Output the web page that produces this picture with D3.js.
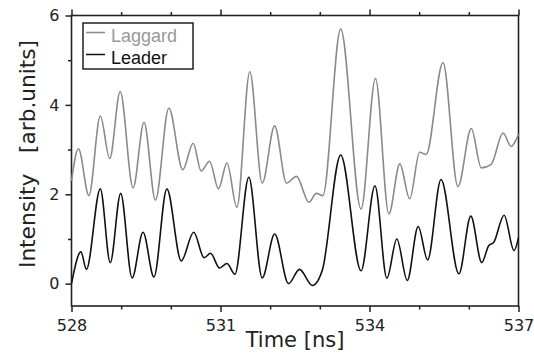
<!DOCTYPE html>
<html>
<head>
<meta charset="utf-8">
<script src="https://cdn.jsdelivr.net/npm/d3@7"></script>
<style>
  html, body { margin: 0; padding: 0; background: #fff; }
  svg { display: block; }
</style>
</head>
<body>
<svg id="chart" width="534" height="354"></svg>
<script>
// Leader pulse train: time [ns] and intensity [arb.units]
const leaderTime = [528.00, 528.19, 528.30, 528.58, 528.78, 528.99, 529.22, 529.44, 529.66, 529.92,
  530.21, 530.46, 530.67, 530.80, 530.98, 531.13, 531.29, 531.57, 531.84, 532.09,
  532.37, 532.59, 532.85, 533.05, 533.42, 533.83, 534.11, 534.35, 534.55, 534.76,
  534.98, 535.17, 535.44, 535.80, 536.04, 536.26, 536.40, 536.50, 536.71, 536.91, 537.00];
const leaderIntensity = [0.00, 0.71, 0.32, 2.12, 0.47, 2.02, 0.13, 1.15, 0.15, 2.12,
  0.51, 1.15, 0.58, 0.68, 0.35, 0.45, 0.21, 2.38, 0.13, 1.11,
  0.00, 0.32, -0.04, 0.30, 2.88, 0.29, 2.19, 0.12, 1.00, 0.07,
  1.28, 0.53, 2.33, 0.22, 1.51, 0.47, 0.85, 0.92, 1.53, 0.74, 1.03];

// Laggard pulse train
const laggardTime = [528.00, 528.14, 528.35, 528.58, 528.77, 528.98, 529.24, 529.46, 529.69, 529.96,
  530.24, 530.45, 530.61, 530.78, 530.96, 531.13, 531.33, 531.59, 531.84, 532.09,
  532.33, 532.53, 532.78, 532.93, 533.06, 533.42, 533.83, 534.12, 534.39, 534.61,
  534.81, 535.01, 535.14, 535.48, 535.78, 536.05, 536.25, 536.45, 536.69, 536.85, 537.00];
const laggardIntensity = [2.30, 3.02, 1.97, 3.75, 2.80, 4.30, 2.14, 3.61, 1.87, 3.93,
  2.55, 3.14, 2.52, 2.74, 2.12, 2.70, 1.71, 4.74, 2.25, 3.53,
  2.25, 2.40, 1.82, 2.02, 1.97, 5.70, 1.67, 4.59, 1.56, 2.68,
  1.90, 2.94, 2.89, 4.95, 2.17, 3.47, 2.59, 2.67, 3.37, 3.07, 3.34];

const xMajorTicks = [528, 531, 534, 537];
const xMinorTicks = [529, 530, 532, 533, 535, 536];
const yMajorTicks = [0, 2, 4, 6];
const yMinorTicks = [1, 3, 5];
const seriesNames = ["Laggard", "Leader"];
const seriesColors = ["#8a8a8a", "#111111"];

const svg = d3.select("#chart");
const plotLeft = 71.5, plotRight = 518.5, plotTop = 15.5, plotBottom = 306;

const x = d3.scaleLinear().domain([528, 537]).range([plotLeft, plotRight]);
const y = d3.scaleLinear().domain([-0.5, 6]).range([plotBottom, plotTop]);

const tickFont = "'DejaVu Sans', sans-serif";
const axisColor = "#222";

function styleAxis(g) {
  g.select(".domain").remove();
  g.selectAll(".tick line").attr("stroke", axisColor).attr("stroke-width", 1.5);
  g.selectAll(".tick text").attr("fill", "#222").style("font-family", tickFont).style("font-size", "16px");
}

// Bottom axis: labelled majors, short minors
svg.append("g").attr("transform", `translate(0,${plotBottom})`)
  .call(d3.axisBottom(x).tickValues(xMajorTicks).tickSize(6).tickPadding(7.5).tickFormat(d3.format("d")))
  .call(styleAxis);
svg.append("g").attr("transform", `translate(0,${plotBottom})`)
  .call(d3.axisBottom(x).tickValues(xMinorTicks).tickSize(3.5).tickFormat(""))
  .call(styleAxis);

// Top axis: ticks only
svg.append("g").attr("transform", `translate(0,${plotTop})`)
  .call(d3.axisTop(x).tickValues(xMajorTicks).tickSize(6).tickFormat(""))
  .call(styleAxis);
svg.append("g").attr("transform", `translate(0,${plotTop})`)
  .call(d3.axisTop(x).tickValues(xMinorTicks).tickSize(3.5).tickFormat(""))
  .call(styleAxis);

// Left axis
svg.append("g").attr("transform", `translate(${plotLeft},0)`)
  .call(d3.axisLeft(y).tickValues(yMajorTicks).tickSize(6).tickPadding(6).tickFormat(d3.format("d")))
  .call(styleAxis);
svg.append("g").attr("transform", `translate(${plotLeft},0)`)
  .call(d3.axisLeft(y).tickValues(yMinorTicks).tickSize(3.5).tickFormat(""))
  .call(styleAxis);

// Plot frame
svg.append("rect")
  .attr("x", plotLeft).attr("y", plotTop)
  .attr("width", plotRight - plotLeft).attr("height", plotBottom - plotTop)
  .attr("fill", "none").attr("stroke", axisColor).attr("stroke-width", 1.6);

// Traces
const line = d3.line()
  .x(d => x(d[0]))
  .y(d => y(d[1]))
  .curve(d3.curveMonotoneX);

const laggardPoints = d3.zip(laggardTime, laggardIntensity);
const leaderPoints = d3.zip(leaderTime, leaderIntensity);

svg.append("path").datum(laggardPoints)
  .attr("d", line).attr("fill", "none")
  .attr("stroke", seriesColors[0]).attr("stroke-width", 1.6);
svg.append("path").datum(leaderPoints)
  .attr("d", line).attr("fill", "none")
  .attr("stroke", seriesColors[1]).attr("stroke-width", 1.6);

// Legend
const legend = svg.append("g");
legend.append("rect")
  .attr("x", 83).attr("y", 23).attr("width", 110).attr("height", 46)
  .attr("fill", "#fff").attr("stroke", axisColor).attr("stroke-width", 1.5);
const legendRows = [32.5, 54.5];
seriesNames.forEach((name, i) => {
  legend.append("line")
    .attr("x1", 86).attr("x2", 105)
    .attr("y1", legendRows[i]).attr("y2", legendRows[i])
    .attr("stroke", seriesColors[i]).attr("stroke-width", 1.5);
  legend.append("text")
    .attr("x", 111).attr("y", legendRows[i] + 9)
    .attr("fill", i === 0 ? "#999" : "#111")
    .style("font-family", "'Liberation Sans', Arial, sans-serif")
    .style("font-size", "18px")
    .text(name);
});

// Axis titles
svg.append("text")
  .attr("x", (plotLeft + plotRight) / 2).attr("y", 347)
  .attr("text-anchor", "middle")
  .attr("fill", "#222")
  .style("font-family", tickFont).style("font-size", "21px")
  .text("Time [ns]");

svg.append("text")
  .attr("transform", "translate(34.5,154) rotate(-90)")
  .attr("text-anchor", "middle")
  .attr("fill", "#222")
  .attr("textLength", 228).attr("lengthAdjust", "spacingAndGlyphs")
  .style("white-space", "pre")
  .style("font-family", tickFont).style("font-size", "21px")
  .text("Intensity   [arb.units]");
</script>
</body>
</html>
